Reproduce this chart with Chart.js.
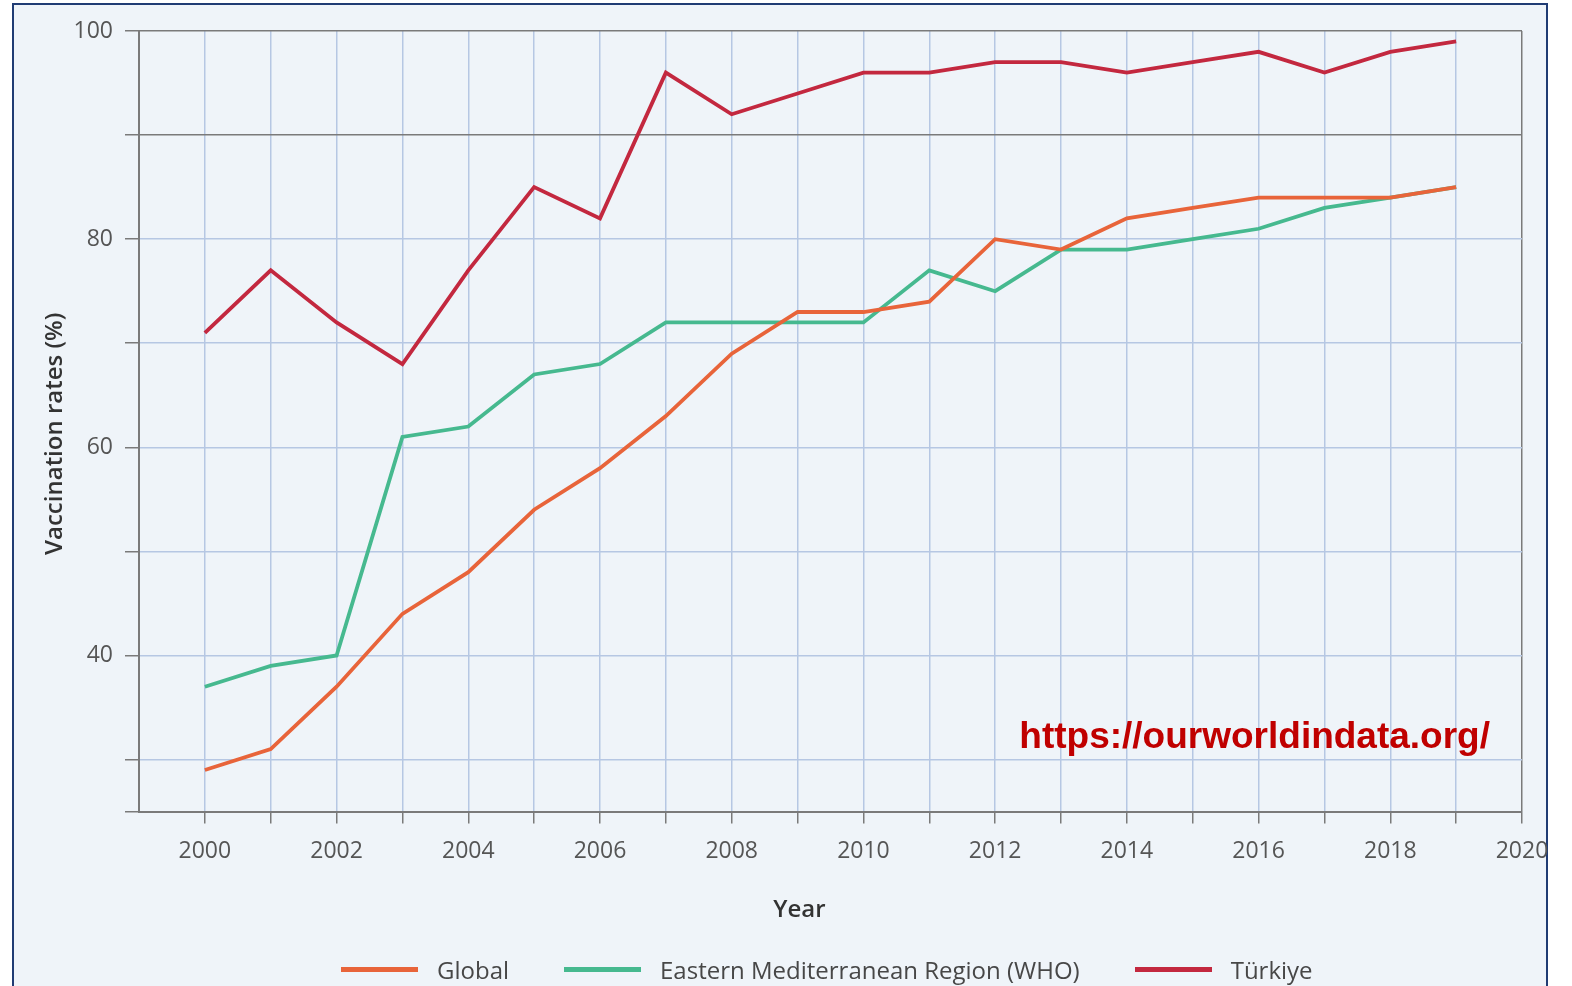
<!DOCTYPE html>
<html>
<head>
<meta charset="utf-8">
<script src="https://cdn.jsdelivr.net/npm/chart.js@4.4.1/dist/chart.umd.min.js"></script>
<style>
  html, body { margin: 0; padding: 0; background: #fff; overflow: hidden; width: 1572px; height: 986px; }
  #frame { position: absolute; left: 12px; top: 3px; width: 1536px; height: 1010px; border: 2px solid #203c74; background: #eff4f9; box-sizing: border-box; }
  #wrap { position: absolute; left: 0; top: 0; width: 1572px; height: 986px; }
  #legend { position: absolute; left: 341px; top: 952px; height: 34px; display: flex; align-items: center; font-family: "Open Sans", sans-serif; font-size: 24px; color: #474747; white-space: nowrap; }
  #legend .item { display: flex; align-items: center; margin-right: 55px; }
  #legend .swatch { width: 77px; height: 5px; margin-right: 19px; }
</style>
</head>
<body>
<div id="frame"></div>
<div id="wrap"><canvas id="myChart" width="1572" height="986"></canvas></div>
<div id="legend"></div>
<script>
let years = [2000, 2001, 2002, 2003, 2004, 2005, 2006, 2007, 2008, 2009, 2010, 2011, 2012, 2013, 2014, 2015, 2016, 2017, 2018, 2019];
let global = [29, 31, 37, 44, 48, 54, 58, 63, 69, 73, 73, 74, 80, 79, 82, 83, 84, 84, 84, 85];
let eastMed = [37, 39, 40, 61, 62, 67, 68, 72, 72, 72, 72, 77, 75, 79, 79, 80, 81, 83, 84, 85];
let turkiye = [71, 77, 72, 68, 77, 85, 82, 96, 92, 94, 96, 96, 97, 97, 96, 97, 98, 96, 98, 99];
let yTickLabels = [40, 60, 80, 100];
let xTickLabels = [2000, 2002, 2004, 2006, 2008, 2010, 2012, 2014, 2016, 2018, 2020];

const gridBlue = '#b6c7e3';
const axisGray = '#7a7a7a';

function points(values) {
    return years.map((yr, i) => ({ x: yr, y: values[i] }));
}

const watermark = {
    id: 'watermark',
    afterDraw(chart) {
        const c = chart.ctx;
        c.save();
        c.font = 'bold 37px "Liberation Sans", Arial, sans-serif';
        c.fillStyle = '#c00000';
        c.textAlign = 'right';
        c.textBaseline = 'middle';
        c.fillText('https://ourworldindata.org/', chart.chartArea.right - 32, chart.scales.y.getPixelForValue(32.1));
        c.restore();
    }
};

let ctx = document.getElementById('myChart');
if (ctx !== null) {
    let chart = new Chart(ctx, {
        type: 'line',
        data: {
            datasets: [
                { label: 'Global', data: points(global), borderColor: '#e8643a', backgroundColor: '#e8643a' },
                { label: 'Eastern Mediterranean Region (WHO)', data: points(eastMed), borderColor: '#46b98f', backgroundColor: '#46b98f' },
                { label: 'Türkiye', data: points(turkiye), borderColor: '#c3283f', backgroundColor: '#c3283f' }
            ]
        },
        options: {
            responsive: false,
            animation: false,
            layout: { padding: { top: 31, right: 50, left: 0, bottom: 61 } },
            elements: {
                line: { borderWidth: 3.8, tension: 0 },
                point: { radius: 0 }
            },
            plugins: {
                tooltip: { enabled: false },
                legend: { display: false }
            },
            scales: {
                x: {
                    type: 'linear',
                    min: 1999,
                    max: 2020,
                    afterBuildTicks: s => { s.ticks = []; for (let v = 1999; v <= 2020; v++) s.ticks.push({ value: v }); },
                    ticks: {
                        autoSkip: false,
                        padding: 14,
                        color: '#555',
                        font: { family: '"Open Sans"', size: 23 },
                        callback: v => xTickLabels.includes(v) ? String(v) : ''
                    },
                    grid: {
                        lineWidth: 1.5,
                        tickLength: 12,
                        color: c => c.tick && c.tick.value === 2020 ? axisGray : gridBlue,
                        tickColor: c => c.tick && c.tick.value === 1999 ? 'rgba(0,0,0,0)' : axisGray
                    },
                    border: { color: axisGray, width: 2 },
                    title: {
                        display: true,
                        // trailing spaces push the title a little left, as in the original
                        text: 'Year          ',
                        color: '#333',
                        padding: { top: 17, bottom: 0 },
                        font: { family: '"Open Sans"', size: 24, weight: '600' }
                    }
                },
                y: {
                    min: 25,
                    max: 100,
                    afterFit: s => { s.width = 139; },
                    ticks: {
                        stepSize: 10,
                        autoSkip: false,
                        padding: 12,
                        color: '#555',
                        font: { family: '"Open Sans"', size: 23 },
                        callback: v => yTickLabels.includes(v) ? String(v) : ''
                    },
                    grid: {
                        lineWidth: 1.5,
                        tickLength: 14,
                        color: c => c.tick && (c.tick.value === 90 || c.tick.value === 100) ? axisGray : gridBlue,
                        tickColor: axisGray
                    },
                    border: { color: axisGray, width: 2 },
                    title: {
                        display: true,
                        // trailing spaces nudge the rotated title a bit lower, like the original
                        text: 'Vaccination rates (%)    ',
                        color: '#333',
                        padding: { top: 41, bottom: 0 },
                        font: { family: '"Open Sans"', size: 24, weight: '600' }
                    }
                }
            }
        },
        plugins: [watermark]
    });

    // legend as html, built from the chart's datasets
    let legend = document.getElementById('legend');
    chart.data.datasets.forEach(ds => {
        let item = document.createElement('div');
        item.className = 'item';
        let sw = document.createElement('span');
        sw.className = 'swatch';
        sw.style.background = ds.borderColor;
        let txt = document.createElement('span');
        txt.textContent = ds.label;
        item.appendChild(sw);
        item.appendChild(txt);
        legend.appendChild(item);
    });
}
</script>
</body>
</html>
